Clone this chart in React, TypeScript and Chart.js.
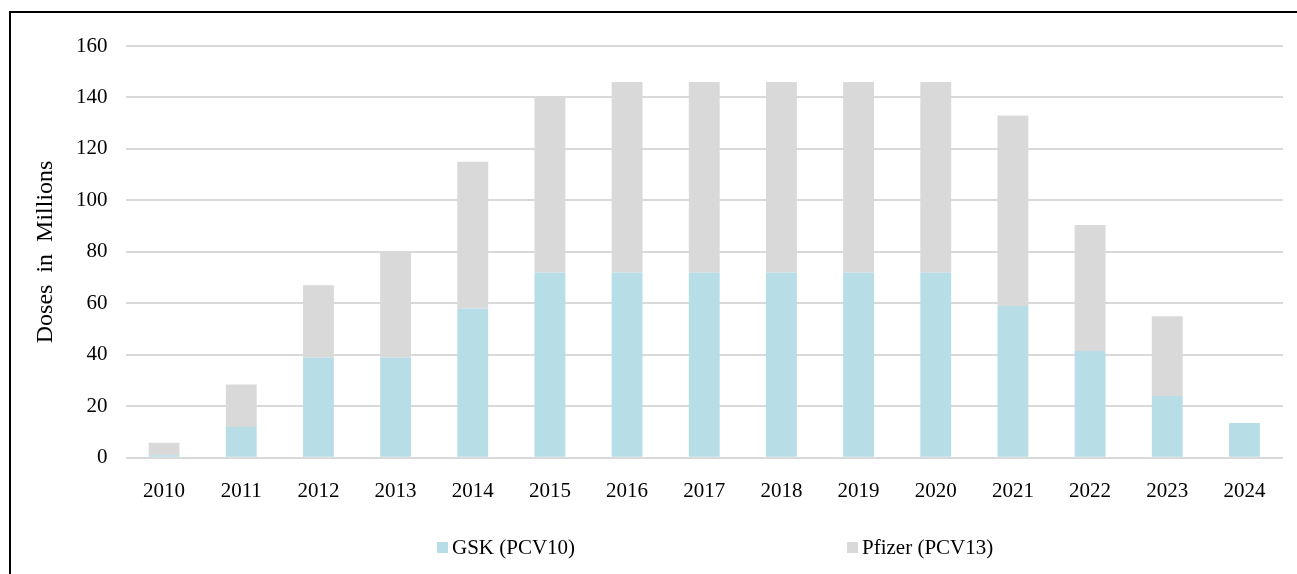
import React, { useEffect, useRef } from "react";
import { Chart, registerables } from "chart.js";

Chart.register(...registerables);

const years = ["2010", "2011", "2012", "2013", "2014", "2015", "2016", "2017", "2018", "2019", "2020", "2021", "2022", "2023", "2024"];
const gskValues = [1, 12, 39, 39, 58, 72, 72, 72, 72, 72, 72, 59, 41.5, 24, 13.5];
const pfizerValues = [4.8, 16.5, 28, 41, 57, 68, 74, 74, 74, 74, 74, 74, 49, 31, 0];
const yTicks = [0, 20, 40, 60, 80, 100, 120, 140, 160];
const seriesNames = ["GSK (PCV10)", "Pfizer (PCV13)"];
const seriesColors = ["#b7dde7", "#d9d9d9"];
const yTitle = "Doses  in  Millions";

const FONT = "'Liberation Serif', 'Times New Roman', serif";

export default function App() {
  const canvasRef = useRef<HTMLCanvasElement | null>(null);

  useEffect(() => {
    if (!canvasRef.current) return;
    const chart = new Chart(canvasRef.current, {
      type: "bar",
      data: {
        labels: years,
        datasets: [
          {
            label: seriesNames[0],
            data: gskValues,
            backgroundColor: seriesColors[0],
            borderWidth: 0,
            barPercentage: 0.4,
            categoryPercentage: 1,
          },
          {
            label: seriesNames[1],
            data: pfizerValues,
            backgroundColor: seriesColors[1],
            borderWidth: 0,
            barPercentage: 0.4,
            categoryPercentage: 1,
          },
        ],
      },
      options: {
        animation: false,
        responsive: false,
        maintainAspectRatio: false,
        layout: { padding: { left: 34, right: 14, top: 46, bottom: 49 } },
        plugins: {
          legend: { display: false },
          tooltip: { enabled: false },
        },
        scales: {
          x: {
            stacked: true,
            grid: { display: false, drawTicks: false },
            border: { display: false },
            ticks: {
              color: "#000",
              padding: 21,
              font: { family: FONT, size: 21 },
              maxRotation: 0,
            },
          },
          y: {
            stacked: true,
            min: 0,
            max: 160,
            afterBuildTicks: (axis: any) => {
              axis.ticks = yTicks.map((v) => ({ value: v }));
            },
            grid: { color: "#d9d9d9", lineWidth: 2, drawTicks: false },
            border: { display: false },
            ticks: {
              color: "#000",
              padding: 18,
              font: { family: FONT, size: 21 },
            },
            title: {
              display: true,
              text: yTitle,
              color: "#000",
              font: { family: FONT, size: 24, lineHeight: 1 },
              padding: { top: 0, bottom: 0 },
            },
          },
        },
      },
    });
    return () => chart.destroy();
  }, []);

  const legendItem = (i: number, left: number) => (
    <div
      key={i}
      style={{
        position: "absolute",
        left,
        top: 535,
        display: "flex",
        alignItems: "center",
        height: 25,
        fontFamily: FONT,
        fontSize: 21,
        lineHeight: "25px",
        color: "#000",
        whiteSpace: "nowrap",
      }}
    >
      <span style={{ display: "inline-block", width: 11, height: 11, background: seriesColors[i], marginRight: 4 }} />
      <span>{seriesNames[i]}</span>
    </div>
  );

  return (
    <div style={{ position: "fixed", left: 0, top: 0, width: 1297, height: 574, overflow: "hidden", background: "#fff" }}>
      <div
        style={{
          position: "absolute",
          left: 9,
          top: 11,
          width: 1400,
          height: 700,
          border: "2px solid #000",
          boxSizing: "border-box",
        }}
      />
      <canvas ref={canvasRef} width={1297} height={574} style={{ position: "absolute", left: 0, top: 0, width: 1297, height: 574 }} />
      {legendItem(0, 437)}
      {legendItem(1, 847)}
    </div>
  );
}
